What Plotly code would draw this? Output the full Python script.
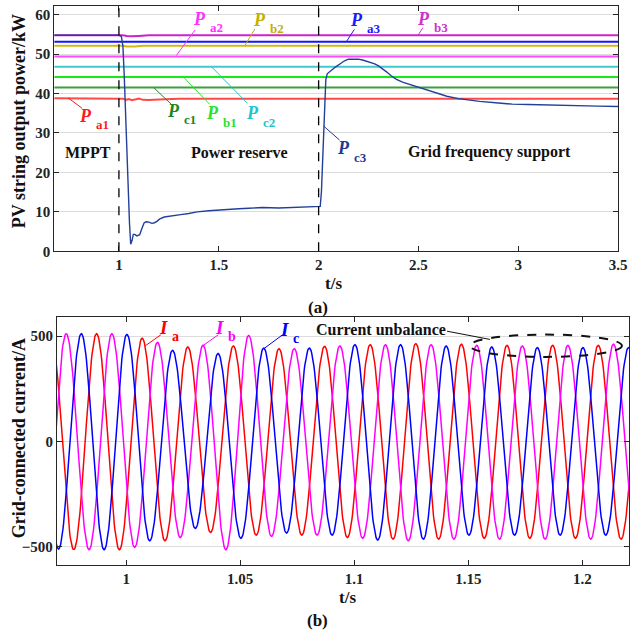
import numpy as np
import plotly.graph_objects as go

W, H = 639, 641
FONT = "Liberation Serif"

# ---------------- (a) PV string output power ----------------
T_MIN, T_MAX = 0.676, 3.5

pa1_t = [T_MIN, 1.0, 1.02, 1.035, 1.05, 1.065, 1.08, 1.10, 1.12, 1.15, 1.20, 1.25, 1.30, T_MAX]
pa1_p = [38.8, 38.8, 38.7, 38.4, 38.6, 38.3, 38.5, 38.75, 38.4, 38.35, 38.5, 38.6, 38.7, 38.7]
pc1_t = [T_MIN, T_MAX]
pc1_p = [41.5, 41.5]
pb1_t = [T_MIN, T_MAX]
pb1_p = [44.2, 44.2]
pc2_t = [T_MIN, T_MAX]
pc2_p = [46.8, 46.8]
pa2_t = [T_MIN, T_MAX]
pa2_p = [49.4, 49.4]
pb2_t = [T_MIN, 1.02, 1.04, 1.08, 1.12, T_MAX]
pb2_p = [52.1, 52.1, 51.9, 51.9, 52.1, 52.1]
pa3_t = [T_MIN, T_MAX]
pa3_p = [53.1, 53.1]
pb3_t = [T_MIN, 1.02, 1.04, 1.06, 1.10, 1.15, T_MAX]
pb3_p = [54.75, 54.75, 54.55, 54.5, 54.6, 54.75, 54.75]

pc3_t = [T_MIN, 1.0, 1.012, 1.02, 1.027, 1.033, 1.038, 1.046, 1.053, 1.059,
         1.066, 1.072, 1.079, 1.09, 1.104, 1.115, 1.126, 1.136, 1.15, 1.165,
         1.178, 1.19, 1.205, 1.227, 1.26, 1.309, 1.35, 1.392, 1.45, 1.5,
         1.556, 1.6, 1.65, 1.72, 1.8, 1.88, 1.967, 2.0, 2.008, 2.014,
         2.02, 2.028, 2.036, 2.043, 2.06, 2.084, 2.11, 2.13, 2.149, 2.175,
         2.198, 2.22, 2.24, 2.26, 2.281, 2.30, 2.32, 2.34, 2.363, 2.39,
         2.42, 2.45, 2.478, 2.52, 2.56, 2.6, 2.642, 2.7, 2.75, 2.806,
         2.9, 2.97, 3.05, 3.12, 3.217, 3.3, 3.4, T_MAX]
pc3_p = [54.75, 54.75, 54.5, 52, 44, 35, 28.7, 16, 7, 1.8,
         2.8, 4.3, 4.3, 3.9, 4.2, 5.8, 7.2, 7.5, 7.4, 7.1,
         7.25, 7.6, 8.2, 8.7, 9.0, 9.3, 9.6, 10.0, 10.3, 10.5,
         10.8, 10.8, 10.9, 11.1, 11.0, 11.1, 11.3, 11.3, 11.4, 15,
         24, 36, 43.5, 45.0, 45.8, 46.7, 47.6, 48.3, 48.7, 48.8,
         48.7, 48.5, 48.2, 47.9, 47.5, 47.0, 46.3, 45.5, 44.5, 43.6,
         42.9, 42.4, 41.9, 41.2, 40.6, 39.9, 39.3, 38.7, 38.3, 38.0,
         37.6, 37.3, 37.2, 37.1, 36.9, 36.9, 36.8, 36.7]

stage_bounds = [1.0, 2.0]
power_ticks = [0, 10, 20, 30, 40, 50, 60]
time_ticks_a = [1, 1.5, 2, 2.5, 3, 3.5]
time_labels_a = ["1", "1.5", "2", "2.5", "3", "3.5"]

# ---------------- (b) grid-connected currents ----------------
HALF_PERIOD = 0.01  # 50 Hz grid
ia_t0 = 0.967
ia_peaks = [505, -514, 511, -514, 490, -472, 448, -432, 453, -445, 440, -445, 451, -456,
            459, -464, 464, -464, 461, -460, 456, -460, 456, -460, 456, -464, 456]
ib_t0 = 0.9637
ib_peaks = [-510, 511, -514, 511, -503, 470, -456, 456, -514, 503, -451, 440, -445, 453,
            -460, 459, -472, 459, -464, 456, -464, 453, -464, 456, -464, 461, -464]
ic_t0 = 0.9603
ic_peaks = [511, -511, 511, -514, 508, -472, 432, -413, 417, -460, 443, -435, 443, -445,
            459, -468, 459, -464, 453, -445, 448, -445, 445, -445, 445, -445, 445, -445]

current_ticks = [-500, 0, 500]
time_ticks_b = [1, 1.05, 1.1, 1.15, 1.2]
time_labels_b = ["1", "1.05", "1.1", "1.15", "1.2"]


def wave_from_peaks(t0, peaks, n=40):
    """Join successive extrema with half-cosine arcs (sinusoidal current shape)."""
    ts, vs = [], []
    for k in range(len(peaks) - 1):
        a, b = peaks[k], peaks[k + 1]
        s = np.linspace(0, 1, n, endpoint=False)
        ts.append(t0 + (k + s) * HALF_PERIOD)
        vs.append((a + b) / 2 + (a - b) / 2 * np.cos(np.pi * s))
    ts.append([t0 + (len(peaks) - 1) * HALF_PERIOD])
    vs.append([peaks[-1]])
    return np.concatenate(ts), np.concatenate(vs)


fig = go.Figure()

# reference power levels and the string power curve
lines_a = [
    (pa1_t, pa1_p, "rgba(255,40,40,0.85)", 2),
    (pc1_t, pc1_p, "#3f9f3f", 2),
    (pb1_t, pb1_p, "#14ec14", 2),
    (pc2_t, pc2_p, "#44c8d0", 2),
    (pa2_t, pa2_p, "#ff48ff", 2),
    (pb2_t, pb2_p, "#cdbb12", 2),
    (pa3_t, pa3_p, "#1414ff", 2),
    (pb3_t, pb3_p, "#cc22cc", 2),
    (pc3_t, pc3_p, "#22409a", 1.4),
]
for t, p, c, w in lines_a:
    fig.add_trace(go.Scatter(x=t, y=p, mode="lines", line=dict(color=c, width=w),
                             xaxis="x", yaxis="y", hoverinfo="skip"))

for t0, pk, c in [(ia_t0, ia_peaks, "#ff0000"), (ib_t0, ib_peaks, "#ff00ff"), (ic_t0, ic_peaks, "#0000ff")]:
    tt, vv = wave_from_peaks(t0, pk)
    fig.add_trace(go.Scatter(x=tt, y=vv, mode="lines", line=dict(color=c, width=1.5),
                             xaxis="x2", yaxis="y2", hoverinfo="skip"))

shapes = []
for tb in stage_bounds:
    shapes.append(dict(type="line", xref="x", yref="y domain", x0=tb, x1=tb, y0=0, y1=1,
                       line=dict(color="black", width=1.3, dash="dash")))

annotations = []


def label(xr, yr, main, sub, color, pos, seg, size=18, sub_size=13, half_w=5, drop=9):
    """Italic symbol with a lowered subscript, plus a leader line to its curve."""
    x0, y0, x1, y1 = seg
    shapes.append(dict(type="line", xref=xr, yref=yr, x0=x0, y0=y0, x1=x1, y1=y1,
                       line=dict(color=color, width=1)))
    annotations.append(dict(xref=xr, yref=yr, x=pos[0], y=pos[1], xshift=half_w, borderpad=0,
                            xanchor="right", yanchor="middle", text=f"<b><i>{main}</i></b>",
                            showarrow=False, font=dict(family=FONT, size=size, color=color)))
    annotations.append(dict(xref=xr, yref=yr, x=pos[0], y=pos[1], xshift=half_w + 2, yshift=-drop,
                            borderpad=0, xanchor="left", yanchor="middle", text=f"<b>{sub}</b>",
                            showarrow=False, font=dict(family=FONT, size=sub_size, color=color)))


label("x", "y", "P", "a1", "#ff1a1a", (0.843, 34.4), (0.745, 38.9, 0.816, 36.25))
label("x", "y", "P", "c1", "#1d861d", (1.287, 35.6), (1.176, 41.4, 1.263, 37.25))
label("x", "y", "P", "b1", "#2ee02e", (1.479, 35.0), (1.328, 43.9, 1.455, 37.25))
label("x", "y", "P", "c2", "#22c4cc", (1.681, 35.0), (1.465, 46.7, 1.644, 37.5))
label("x", "y", "P", "a2", "#ff33ff", (1.414, 58.9), (1.287, 49.6, 1.381, 56.1))
label("x", "y", "P", "b2", "#c4b000", (1.718, 58.75), (1.632, 52.25, 1.681, 56.4))
label("x", "y", "P", "a3", "#1a1aff", (2.204, 58.75), (2.141, 53.3, 2.179, 56.25))
label("x", "y", "P", "b3", "#cc33cc", (2.54, 58.9), (2.498, 54.75, 2.522, 56.7))
label("x", "y", "P", "c3", "#1f3a93", (2.136, 26.1), (2.026, 31.7, 2.105, 28.2))

label("x2", "y2", "I", "a", "#ff0000", (1.0171, 541), (1.0084, 454, 1.0152, 506), 19, 14, 4, 9)
label("x2", "y2", "I", "b", "#ff00ff", (1.0416, 541), (1.0336, 454, 1.0404, 506), 19, 14, 4, 9)
label("x2", "y2", "I", "c", "#0000ff", (1.0700, 533), (1.0606, 442, 1.0686, 506), 19, 14, 4, 9)

for txt, tx, py in [("MPPT", 0.844, 25.0), ("Power reserve", 1.603, 25.0), ("Grid frequency support", 2.856, 25.3)]:
    annotations.append(dict(xref="x", yref="y", x=tx, y=py, text=f"<b>{txt}</b>", showarrow=False,
                            font=dict(family=FONT, size=16, color="#111111")))

annotations.append(dict(xref="x2", yref="y2", x=1.1116, y=533, text="<b>Current unbalance</b>", showarrow=False,
                        font=dict(family=FONT, size=16, color="#111111")))
shapes.append(dict(type="line", xref="x2", yref="y2", x0=1.1407, y0=523, x1=1.1595, y1=484,
                   line=dict(color="#111111", width=1)))
shapes.append(dict(type="circle", xref="x2", yref="y2", x0=1.1507, x1=1.2174, y0=401, y1=507,
                   line=dict(color="#111111", width=2, dash="dash")))


def px_x(px):
    return px / W


def px_y(py):
    return 1 - py / H


# axis titles and panel tags
for txt, x, y, ang in [("PV string output power/kW", 20, 123, -90), ("Grid-connected current/A", 20, 444, -90),
                       ("t/s", 338, 287, 0), ("t/s", 352, 605, 0), ("(a)", 323, 311, 0), ("(b)", 322, 628, 0)]:
    annotations.append(dict(xref="paper", yref="paper", x=px_x(x), y=px_y(y), text=f"<b>{txt}</b>",
                            showarrow=False, textangle=ang, xanchor="center", yanchor="middle",
                            font=dict(family=FONT, size=18 if ang else 17, color="#111111")))

axis_common = dict(showline=True, linecolor="#262626", linewidth=1, mirror="ticks", ticks="inside",
                   ticklen=5, tickcolor="#262626", zeroline=False,
                   tickfont=dict(family=FONT, size=15, color="#222222", weight="bold"))

fig.update_layout(
    width=W, height=H, margin=dict(l=0, r=0, t=0, b=0),
    paper_bgcolor="white", plot_bgcolor="white", showlegend=False,
    xaxis=dict(domain=[px_x(55), px_x(627)], range=[T_MIN, T_MAX], tickvals=time_ticks_a,
               ticktext=time_labels_a, showgrid=False, anchor="y", **axis_common),
    yaxis=dict(domain=[px_y(254.5), px_y(6)], range=[0, 62.2], tickvals=power_ticks, showgrid=True,
               gridcolor="#dcdcdc", gridwidth=1, anchor="x", **axis_common),
    xaxis2=dict(domain=[px_x(57.7), px_x(638)], range=[0.9696, 1.2205], tickvals=time_ticks_b,
                ticktext=time_labels_b, showgrid=False, anchor="y2", **axis_common),
    yaxis2=dict(domain=[px_y(572), px_y(321.3)], range=[-586, 589], tickvals=current_ticks, showgrid=True,
                gridcolor="#dcdcdc", gridwidth=1, anchor="x2", **axis_common),
    shapes=shapes, annotations=annotations,
)

fig.write_html("out.html")
